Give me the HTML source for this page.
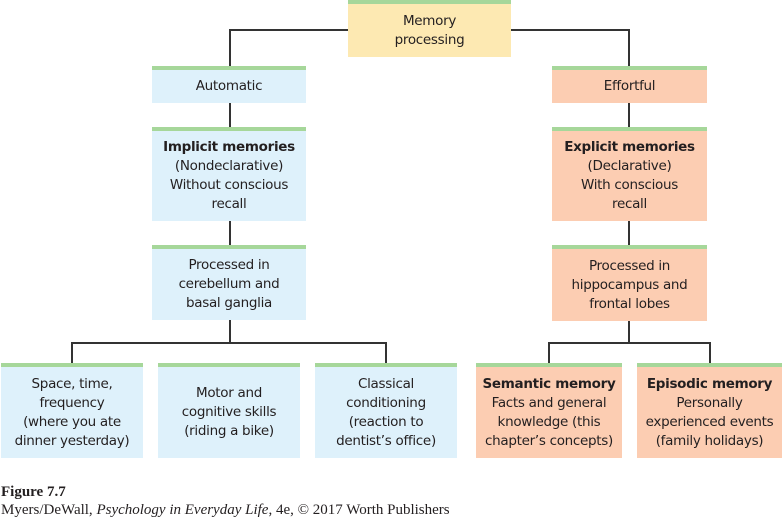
<!DOCTYPE html>
<html><head><meta charset="utf-8"><style>
body{margin:0;width:783px;height:522px;background:#fff;position:relative;overflow:hidden;font-family:"DejaVu Sans","Liberation Sans",sans-serif;}
.b{position:absolute;box-sizing:border-box;border-top:4px solid #a6d79a;display:flex;align-items:center;justify-content:center;text-align:center;font-size:13.5px;line-height:19px;color:#231f20;letter-spacing:-0.3px}
.bl{background:#def1fb}.pe{background:#fccdb2}.ye{background:#fde9b2}
.l{position:absolute;background:#333}
b{font-weight:bold}
.cap{position:absolute;left:1px;font-family:"Liberation Serif",serif;font-size:15px;color:#231f20}
</style></head><body>
<div class="l" style="left:229px;top:29px;width:120px;height:2px"></div>
<div class="l" style="left:229px;top:29px;width:2px;height:38px"></div>
<div class="l" style="left:510px;top:29px;width:120px;height:2px"></div>
<div class="l" style="left:628px;top:29px;width:2px;height:38px"></div>
<div class="l" style="left:229px;top:103px;width:2px;height:25px"></div>
<div class="l" style="left:229px;top:221px;width:2px;height:25px"></div>
<div class="l" style="left:229px;top:320px;width:2px;height:24px"></div>
<div class="l" style="left:71px;top:342px;width:316px;height:2px"></div>
<div class="l" style="left:71px;top:342px;width:2px;height:22px"></div>
<div class="l" style="left:385px;top:342px;width:2px;height:22px"></div>
<div class="l" style="left:628px;top:103px;width:2px;height:25px"></div>
<div class="l" style="left:628px;top:221px;width:2px;height:25px"></div>
<div class="l" style="left:628px;top:321px;width:2px;height:23px"></div>
<div class="l" style="left:548px;top:342px;width:162px;height:2px"></div>
<div class="l" style="left:548px;top:342px;width:2px;height:22px"></div>
<div class="l" style="left:709px;top:342px;width:2px;height:22px"></div>

<div class="b ye" style="left:348px;top:0;width:163px;height:57px">Memory<br>processing</div>
<div class="b bl" style="left:152px;top:66px;width:154px;height:37px">Automatic</div>
<div class="b pe" style="left:552px;top:66px;width:155px;height:37px">Effortful</div>
<div class="b bl" style="left:152px;top:127px;width:154px;height:94px"><div><b>Implicit memories</b><br>(Nondeclarative)<br>Without conscious<br>recall</div></div>
<div class="b pe" style="left:552px;top:127px;width:155px;height:94px"><div><b>Explicit memories</b><br>(Declarative)<br>With conscious<br>recall</div></div>
<div class="b bl" style="left:152px;top:245px;width:154px;height:75px">Processed in<br>cerebellum and<br>basal ganglia</div>
<div class="b pe" style="left:552px;top:245px;width:155px;height:76px">Processed in<br>hippocampus and<br>frontal lobes</div>
<div class="b bl" style="left:1px;top:363px;width:142px;height:95px">Space, time,<br>frequency<br>(where you ate<br>dinner yesterday)</div>
<div class="b bl" style="left:158px;top:363px;width:142px;height:95px">Motor and<br>cognitive skills<br>(riding a bike)</div>
<div class="b bl" style="left:315px;top:363px;width:142px;height:95px">Classical<br>conditioning<br>(reaction to<br>dentist’s office)</div>
<div class="b pe" style="left:476px;top:363px;width:146px;height:95px"><div><b>Semantic memory</b><br>Facts and general<br>knowledge (this<br>chapter’s concepts)</div></div>
<div class="b pe" style="left:637px;top:363px;width:145px;height:95px"><div><b>Episodic memory</b><br>Personally<br>experienced events<br>(family holidays)</div></div>

<div class="cap" style="top:484px;font-weight:bold">Figure 7.7</div>
<div class="cap" style="top:502px">Myers/DeWall, <i>Psychology in Everyday Life</i>, 4e, © 2017 Worth Publishers</div>
</body></html>
